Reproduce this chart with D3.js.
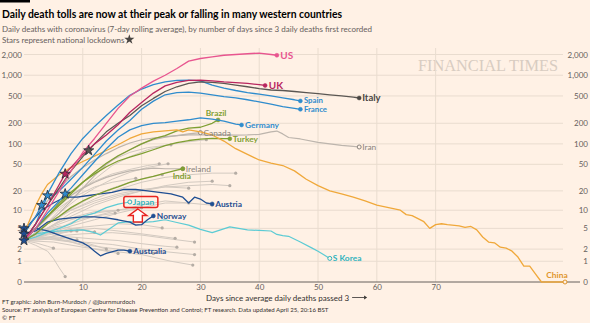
<!DOCTYPE html>
<html>
<head>
<meta charset="utf-8">
<script src="https://cdn.jsdelivr.net/npm/d3@7"></script>
<style>
  body { margin: 0; background: #fff1e5; }
  svg { display: block; font-family: Lato, "Open Sans", sans-serif; }
</style>
</head>
<body>
<div id="chart"></div>
<script>
// 7-day average daily deaths, [days since 3 daily deaths, deaths]
var usDeaths = [[0,3],[2,5],[4,10],[6,20],[8,40],[10,75],[12,120],[14,200],[16,330],[18,500],[20,650],[22,820],[24,1000],[26,1250],[28,1600],[30,1750],[32,1850],[34,1950],[36,2000],[38,2050],[40,2100],[42,2000],[43,1950]];
var ukDeaths = [[0,3],[2,6],[4,12],[6,25],[7,36],[8,45],[10,70],[12,100],[14,135],[16,190],[18,290],[20,400],[22,550],[24,700],[26,790],[28,840],[30,850],[32,830],[34,800],[36,780],[38,760],[40,730],[41,711]];
var italyDeaths = [[0,3],[2,6],[4,12],[6,22],[8,40],[10,65],[11,80],[12,100],[14,150],[16,200],[18,260],[20,360],[22,460],[24,580],[26,680],[28,760],[30,800],[32,790],[34,760],[36,720],[38,680],[40,640],[42,610],[44,600],[46,580],[48,560],[50,540],[52,520],[54,500],[56,480],[57,467]];
var spainDeaths = [[0,4],[2,8],[3,12],[4,18],[6,38],[8,72],[10,120],[12,180],[14,260],[16,370],[18,510],[20,630],[22,730],[24,800],[26,840],[28,850],[30,830],[32,720],[34,650],[36,600],[38,560],[40,530],[42,500],[44,470],[46,440],[47,423]];
var franceDeaths = [[0,3],[2,6],[4,17],[5,17],[6,20],[8,30],[10,45],[12,70],[14,110],[16,160],[18,220],[20,320],[22,420],[24,520],[26,560],[28,570],[30,550],[32,520],[34,490],[36,470],[38,440],[40,410],[42,380],[44,350],[46,330],[47,320]];
var germanyDeaths = [[0,3],[2,5],[4,9],[6,14],[7,18],[8,22],[10,35],[12,55],[14,85],[16,125],[18,160],[20,185],[22,200],[24,205],[26,215],[28,225],[30,240],[32,230],[34,215],[36,195],[37,189]];
var brazilDeaths = [[0,3],[2,5],[4,8],[6,12],[8,18],[10,27],[12,38],[14,52],[16,67],[18,82],[20,100],[22,118],[24,132],[26,155],[28,170],[30,175],[32,200],[33,224]];
var turkeyDeaths = [[0,3],[2,5],[4,8],[6,13],[8,19],[10,27],[12,36],[14,46],[16,56],[18,64],[20,72],[22,82],[24,94],[26,104],[28,112],[30,117],[32,120],[34,119],[35,119]];
var indiaDeaths = [[0,3],[2,4],[4,6],[6,8],[8,11],[10,14],[12,17],[14,20],[16,23],[18,27],[20,30],[22,33],[24,37],[26,41],[27,43]];
var chinaDeaths = [[0,4],[1,7],[2,12],[3,18],[4,25],[6,35],[8,45],[10,55],[12,66],[14,80],[16,97],[18,120],[20,140],[22,150],[24,155],[26,160],[27,150],[28,160],[30,150],[32,135],[34,110],[36,85],[38,70],[40,58],[42,52],[44,48],[46,40],[48,30],[50,24],[52,20],[54,18],[56,16],[58,14],[60,12],[62,11],[64,10],[65,8.5],[66,8.2],[68,6.5],[69,5],[70,5.8],[71,6],[72,5.8],[74,5.5],[75,5.2],[76,5.4],[77,4.7],[78,3.5],[79,2.8],[80,2.7],[81,2.2],[82,2.1],[83,1.8],[84,1.3],[85,0.7],[86,0.7],[87,0.3],[88,0],[92,0]];
var iranDeaths = [[0,4],[2,8],[4,14],[6,22],[8,33],[10,45],[12,58],[14,72],[16,88],[18,103],[20,115],[22,122],[24,128],[26,132],[28,135],[30,135],[32,135],[34,135],[36,134],[38,135],[40,138],[42,150],[43,154],[44,140],[45,124],[47,118],[50,105],[52,100],[54,95],[56,92],[57,90]];
var canadaDeaths = [[0,3],[2,4],[4,6],[6,9],[8,14],[10,22],[12,34],[14,50],[16,66],[18,82],[20,100],[22,115],[24,125],[26,132],[28,140],[30,146]];
var irelandDeaths = [[0,3],[2,5],[4,8],[6,12],[8,17],[10,22],[12,27],[14,32],[16,36],[18,40],[20,42],[22,44],[24,43],[26,43],[27,43]];
var japanDeaths = [[0,3],[2,3.5],[4,4.3],[6,5],[8,6],[10,8],[12,9],[14,11],[16,12.5],[17,13],[18,13.5]];
var skoreaDeaths = [[0,3],[2,4],[4,4.3],[6,4.5],[8,4.6],[10,4.7],[12,4.2],[13,3.8],[14,4.5],[16,6.2],[18,6.5],[20,6.3],[22,6.5],[24,7],[26,6.3],[28,5.7],[30,4.8],[32,4.2],[35,5.3],[38,4.7],[40,4.6],[42,4.5],[43,3.9],[44,3.7],[45,3.6],[47,2.8],[49,2.1],[50,1.8],[52,1.2]];
var austriaDeaths = [[0,5],[1,6],[3,10],[5,13],[7,16],[9,16],[11,17],[13,18],[15,19],[17,21],[19,21],[21,20],[23,19],[25,18],[27,16],[28,13],[29,16],[30,15],[31,13],[32,12.6]];
var norwayDeaths = [[0,4],[2,4.5],[4,6.4],[6,7.2],[8,7.5],[10,7.8],[12,7.8],[14,7.5],[16,7],[18,6.4],[19,5.7],[20,5.8],[21,7],[22,8.1]];
var australiaDeaths = [[0,3],[2,5],[4,4.5],[6,3.8],[8,3.2],[10,2.7],[11,2.3],[12,1.8],[13,1.4],[14,1.6],[16,1.9],[17,1.9],[18,1.8]];

// unlabelled countries
var otherDeaths = [
  [[0,3],[2,2.4],[4,1.8],[5,1.2],[6,0.6],[7,0.2]],
  [[0,3],[2,2.7],[4,2.3],[5,2.1]],
  [[0,3],[2,3.4],[4,4],[5,4.3]],
  [[0,3],[2,3.6],[4,3.4],[6,4],[8,4.5]],
  [[0,3],[2,4],[4,4.8],[6,4.2],[9,4.5]],
  [[0,3],[3,3.5],[6,3.3],[9,3.1]],
  [[0,3],[3,4.5],[6,5.5],[9,4.8],[12,4.3]],
  [[0,3],[3,3.8],[6,4.4],[9,5],[12,4.3]],
  [[0,3],[3,3.2],[6,3.8],[9,3],[12,2.4],[14,2]],
  [[0,3],[4,3.5],[8,2.8],[12,2],[16,1.6]],
  [[0,3],[3,4.5],[6,6.5],[9,8],[12,9.5],[16,10]],
  [[0,3],[3,4],[6,5],[9,7],[12,8],[15.5,9]],
  [[0,3],[4,5],[8,7],[12,9],[16,10],[20,11]],
  [[0,3],[3,6],[6,11],[9,17],[12,23],[15,27],[19,31]],
  [[0,3],[3,6],[6,12],[9,20],[12,28],[15,36],[18,42],[21,48],[23,51]],
  [[0,3],[3,5],[6,9],[9,15],[12,22],[15,30],[18,38],[21,45],[24.5,51]],
  [[0,3],[3,5],[6,8],[9,12],[12,17],[15,22],[18,27],[21,32],[23.5,35]],
  [[0,3],[4,5],[8,9],[12,13],[16,17],[20,20],[24,23],[28,22]],
  [[0,3],[4,6],[8,10],[12,15],[16,21],[20,27],[24,32],[28,35],[32,37],[36,37]],
  [[0,3],[4,5],[8,8],[12,12],[16,16],[20,20],[24,24],[28,27],[32,28]],
  [[0,3],[4,4.5],[8,6],[12,8],[16,10],[20,12],[24,14],[28,13],[32,12]],
  [[0,3],[4,4],[8,5.5],[12,7],[16,9],[20,11],[24,13],[28,13]],
  [[0,3],[4,4],[8,5],[12,5.5],[16,6],[20,5.8],[23.5,5.1]],
  [[0,3],[4,3.8],[8,4.5],[12,5],[16,4.5],[20,4],[24,3.5],[25.7,3.3]],
  [[0,3],[4,3.3],[8,3.5],[12,3.2],[16,3],[20,2.6],[24,2.3],[26,2.2]],
  [[0,3],[5,3.6],[10,4],[15,4.2],[20,3.8],[25,3.2],[29,2.8]],
  [[0,3],[4,3.2],[8,2.8],[12,2.3],[16,2],[20,1.7],[22,1.6]],
  [[0,3],[4,6],[8,10],[12,14],[16,18],[20,21],[24,23],[28,24],[32,25],[35,24]],
  [[0,3],[5,2.8],[10,2.2],[15,1.8],[20,1.5],[25,1],[28.7,0.76]],
  [[0,3],[5,3.2],[10,2.8],[15,2.5],[20,2],[25,1.7],[29,1.5]],
  [[0,3],[3,5],[6,10],[9,18],[12,30],[15,48],[18,65],[21,82],[24,95],[27,105],[31,115]],
  [[0,3],[3,6],[6,12],[9,22],[12,38],[15,58],[18,75],[21,88],[25,97]]
];

// national lockdowns: [country, day]
var lockdowns = [['Italy',11],['UK',7],['Spain',3],['France',4],['Germany',7],['Austria',0],['Norway',0],['Australia',0]];

var yTicks = [0, 1, 2, 5, 10, 20, 50, 100, 200, 500, 1000, 2000];
var xTicks = [10, 20, 30, 40, 50, 60, 70];

var width = 590, height = 323;
var bg = '#fff1e5', grid = '#e9dccf', tickCol = '#66605c';

var svg = d3.select('#chart').append('svg').attr('width', width).attr('height', height);
svg.append('rect').attr('width', width).attr('height', height).attr('fill', bg);

var x = d3.scaleLinear().domain([0, 92]).range([24, 565]);
var y = d3.scaleSymlog().constant(1).domain([0, 2000]).range([282, 54.5]);

// header
svg.append('rect').attr('x', 0).attr('y', 0).attr('width', 30).attr('height', 2.5).attr('fill', '#000');
svg.append('text').attr('x', 2).attr('y', 17.5)
  .attr('font-size', 11).attr('font-weight', 700).attr('fill', '#000')
  .attr('textLength', 340).attr('lengthAdjust', 'spacingAndGlyphs')
  .text('Daily death tolls are now at their peak or falling in many western countries');
svg.append('text').attr('x', 2).attr('y', 32)
  .attr('font-size', 8).attr('fill', tickCol)
  .text('Daily deaths with coronavirus (7-day rolling average), by number of days since 3 daily deaths first recorded');
var sub2 = svg.append('text').attr('x', 2).attr('y', 42.5)
  .attr('font-size', 8).attr('fill', tickCol)
  .text('Stars represent national lockdowns');

// watermark
svg.append('text').attr('x', 418).attr('y', 71)
  .attr('font-family', '"Liberation Serif", "DejaVu Serif", serif')
  .attr('font-size', 16).attr('fill', '#d8ccc1')
  .attr('textLength', 140).attr('lengthAdjust', 'spacingAndGlyphs')
  .text('FINANCIAL TIMES');

// grid
var gGrid = svg.append('g');
gGrid.selectAll('.hg').data(yTicks.filter(function(d) { return d > 0; })).enter().append('line')
  .attr('x1', 24).attr('x2', 563)
  .attr('y1', function(d) { return y(d); }).attr('y2', function(d) { return y(d); })
  .attr('stroke', grid).attr('stroke-width', 1);
gGrid.selectAll('.vg').data(xTicks).enter().append('line')
  .attr('x1', function(d) { return x(d); }).attr('x2', function(d) { return x(d); })
  .attr('y1', 48).attr('y2', 282)
  .attr('stroke', grid).attr('stroke-width', 1);

// y axes both sides
var yAxisL = d3.axisLeft(y).tickValues(yTicks).tickSize(0).tickPadding(1).tickFormat(d3.format(','));
var yAxisR = d3.axisRight(y).tickValues(yTicks).tickSize(0).tickPadding(0).tickFormat(d3.format(','));
var gl = svg.append('g').attr('transform', 'translate(23,0)').call(yAxisL);
var gr = svg.append('g').attr('transform', 'translate(588,0)').call(yAxisR);
gr.selectAll('text').attr('text-anchor', 'end');
[gl, gr].forEach(function(g) {
  g.select('.domain').remove();
  g.selectAll('text').attr('font-size', 8).attr('fill', tickCol).attr('font-family', 'Lato, sans-serif');
});

// x axis
var xAxis = d3.axisBottom(x).tickValues(xTicks).tickSize(0).tickPadding(2);
var gx = svg.append('g').attr('transform', 'translate(0,282)').call(xAxis);
gx.select('.domain').remove();
gx.selectAll('text').attr('font-size', 8).attr('fill', tickCol).attr('font-family', 'Lato, sans-serif');
svg.append('line').attr('x1', 24).attr('x2', 580).attr('y1', 282).attr('y2', 282)
  .attr('stroke', tickCol).attr('stroke-width', 1);

var xt = svg.append('text').attr('x', 206).attr('y', 300.5)
  .attr('font-size', 8).attr('fill', '#33302e')
  .text('Days since average daily deaths passed 3');
var xtEnd = 206 + xt.node().getComputedTextLength() + 3;
svg.append('line').attr('x1', xtEnd).attr('x2', xtEnd + 12).attr('y1', 297.5).attr('y2', 297.5)
  .attr('stroke', '#33302e').attr('stroke-width', 0.8);
svg.append('path').attr('d', 'M' + (xtEnd + 12) + ',295.5 L' + (xtEnd + 15) + ',297.5 L' + (xtEnd + 12) + ',299.5 Z')
  .attr('fill', '#33302e');

// footer
var foot = ['FT graphic: John Burn-Murdoch / @jburnmurdoch',
  'Source: FT analysis of European Centre for Disease Prevention and Control; FT research. Data updated April 25, 20:16 BST',
  '\u00a9 FT'];
svg.selectAll('.foot').data(foot).enter().append('text')
  .attr('x', 2).attr('y', function(d, i) { return 304 + i * 8; })
  .attr('font-size', 6.1).attr('fill', '#33302e')
  .text(function(d) { return d; });

// lines
var line = d3.line()
  .x(function(d) { return x(d[0]); })
  .y(function(d) { return y(d[1]); });

var gOther = svg.append('g');
gOther.selectAll('path').data(otherDeaths).enter().append('path')
  .attr('d', line).attr('fill', 'none').attr('stroke', '#d3cac1').attr('stroke-width', 1);
gOther.selectAll('circle').data(otherDeaths).enter().append('circle')
  .attr('cx', function(d) { return x(d[d.length - 1][0]); })
  .attr('cy', function(d) { return y(d[d.length - 1][1]); })
  .attr('r', 1.6).attr('fill', '#b5ada5');

var navy = '#1f4e92', blue = '#2f8ccd', green = '#7f9f32', cyan = '#5ccbd4';
var series = [
  { name: 'Iran', data: iranDeaths, color: '#bdb5ad', text: '#8a837d', w: 1.2, ring: true, bold: false, dx: 3, dy: 0 },
  { name: 'Canada', data: canadaDeaths, color: '#bdb5ad', text: '#8a837d', w: 1.2, ring: true, bold: false, dx: 3, dy: 0 },
  { name: 'Ireland', data: irelandDeaths, color: '#bdb5ad', text: '#8a837d', w: 1.2, ring: false, bold: false, dx: 3, dy: 0 },
  { name: 'S Korea', data: skoreaDeaths, color: cyan, text: '#2fb3be', w: 1.2, ring: true, bold: true, dx: 3, dy: 0 },
  { name: 'Japan', data: japanDeaths, color: cyan, text: '#2fb3be', w: 1.2, ring: true, bold: true, dx: 3, dy: 0 },
  { name: 'Australia', data: australiaDeaths, color: navy, text: navy, w: 1.3, bold: true, dx: 3.5, dy: 0 },
  { name: 'Norway', data: norwayDeaths, color: navy, text: navy, w: 1.3, bold: true, dx: 3.5, dy: 0 },
  { name: 'Austria', data: austriaDeaths, color: navy, text: navy, w: 1.3, bold: true, dx: 3, dy: 0 },
  { name: 'India', data: indiaDeaths, color: green, text: green, w: 1.3, bold: true, dx: -1, dy: 7, anchor: 'middle' },
  { name: 'Turkey', data: turkeyDeaths, color: green, text: green, w: 1.3, bold: true, dx: 3, dy: 0 },
  { name: 'Brazil', data: brazilDeaths, color: green, text: green, w: 1.3, bold: true, dx: -2, dy: -6.5, anchor: 'middle' },
  { name: 'China', data: chinaDeaths, color: '#f0a83a', text: '#e0952a', w: 1.3, ring: true, bold: true, dx: -8, dy: -7, anchor: 'middle' },
  { name: 'Germany', data: germanyDeaths, color: blue, text: blue, w: 1.3, bold: true, dx: 3.5, dy: 0 },
  { name: 'France', data: franceDeaths, color: blue, text: blue, w: 1.3, bold: true, dx: 3.5, dy: 0.5, size: 7.8 },
  { name: 'Spain', data: spainDeaths, color: blue, text: blue, w: 1.3, bold: true, dx: 3.5, dy: -0.5, size: 7.8 },
  { name: 'Italy', data: italyDeaths, color: '#5b5753', text: '#4a4643', w: 1.3, bold: true, dx: 3, dy: 0, size: 9.5 },
  { name: 'UK', data: ukDeaths, color: '#b8265f', text: '#b8265f', w: 1.3, bold: true, dx: 3.7, dy: 0, size: 10 },
  { name: 'US', data: usDeaths, color: '#e8558f', text: '#e8558f', w: 1.3, bold: true, dx: 3.5, dy: 0, size: 10 }
];

var gSeries = svg.append('g');
series.forEach(function(s) {
  var end = s.data[s.data.length - 1];
  gSeries.append('path').attr('d', line(s.data))
    .attr('fill', 'none').attr('stroke', s.color).attr('stroke-width', s.w)
    .attr('stroke-linejoin', 'round');
  gSeries.append('circle').attr('cx', x(end[0])).attr('cy', y(end[1]))
    .attr('r', 2)
    .attr('fill', s.ring ? bg : s.text)
    .attr('stroke', s.text).attr('stroke-width', s.ring ? 1 : 0.5);
});

// labels on top
series.forEach(function(s) {
  var end = s.data[s.data.length - 1];
  gSeries.append('text')
    .attr('x', x(end[0]) + s.dx).attr('y', y(end[1]) + s.dy).attr('dy', '0.35em')
    .attr('text-anchor', s.anchor || 'start')
    .attr('font-size', s.size || 8.4).attr('font-weight', s.bold ? 700 : 400)
    .attr('fill', s.text)
    .text(s.name);
});

// lockdown stars
var byName = {};
series.forEach(function(s) { byName[s.name] = s; });
var star = d3.symbol().type(d3.symbolStar).size(32);
svg.append('g').selectAll('path').data(lockdowns).enter().append('path')
  .attr('d', star)
  .attr('transform', function(d) {
    var s = byName[d[0]];
    var pt = s.data.find(function(p) { return p[0] === d[1]; });
    return 'translate(' + x(pt[0]) + ',' + y(pt[1]) + ')';
  })
  .attr('fill', function(d) { return byName[d[0]].color; })
  .attr('stroke', '#262a33').attr('stroke-width', 0.8);

// legend star after subtitle
var s2End = 2 + sub2.node().getComputedTextLength() + 5;
svg.append('path').attr('d', star).attr('transform', 'translate(' + s2End + ',39.5)')
  .attr('fill', '#4a4643');

// Japan highlight
var jEnd = japanDeaths[japanDeaths.length - 1];
var jx = x(jEnd[0]), jy = y(jEnd[1]);
svg.append('rect').attr('x', jx - 6).attr('y', jy - 5.5).attr('width', 34).attr('height', 11)
  .attr('rx', 2).attr('fill', 'none').attr('stroke', '#e8231f').attr('stroke-width', 1.5);
var ax = jx + 8, ay = jy + 7;
svg.append('path')
  .attr('d', 'M' + ax + ',' + ay + ' L' + (ax + 9) + ',' + (ay + 6.5) + ' L' + (ax + 4.5) + ',' + (ay + 6.5) +
    ' L' + (ax + 4.5) + ',' + (ay + 13) + ' L' + (ax - 4.5) + ',' + (ay + 13) + ' L' + (ax - 4.5) + ',' + (ay + 6.5) +
    ' L' + (ax - 9) + ',' + (ay + 6.5) + ' Z')
  .attr('fill', '#fff').attr('stroke', '#e8231f').attr('stroke-width', 1.4).attr('stroke-linejoin', 'miter');
</script>
</body>
</html>
